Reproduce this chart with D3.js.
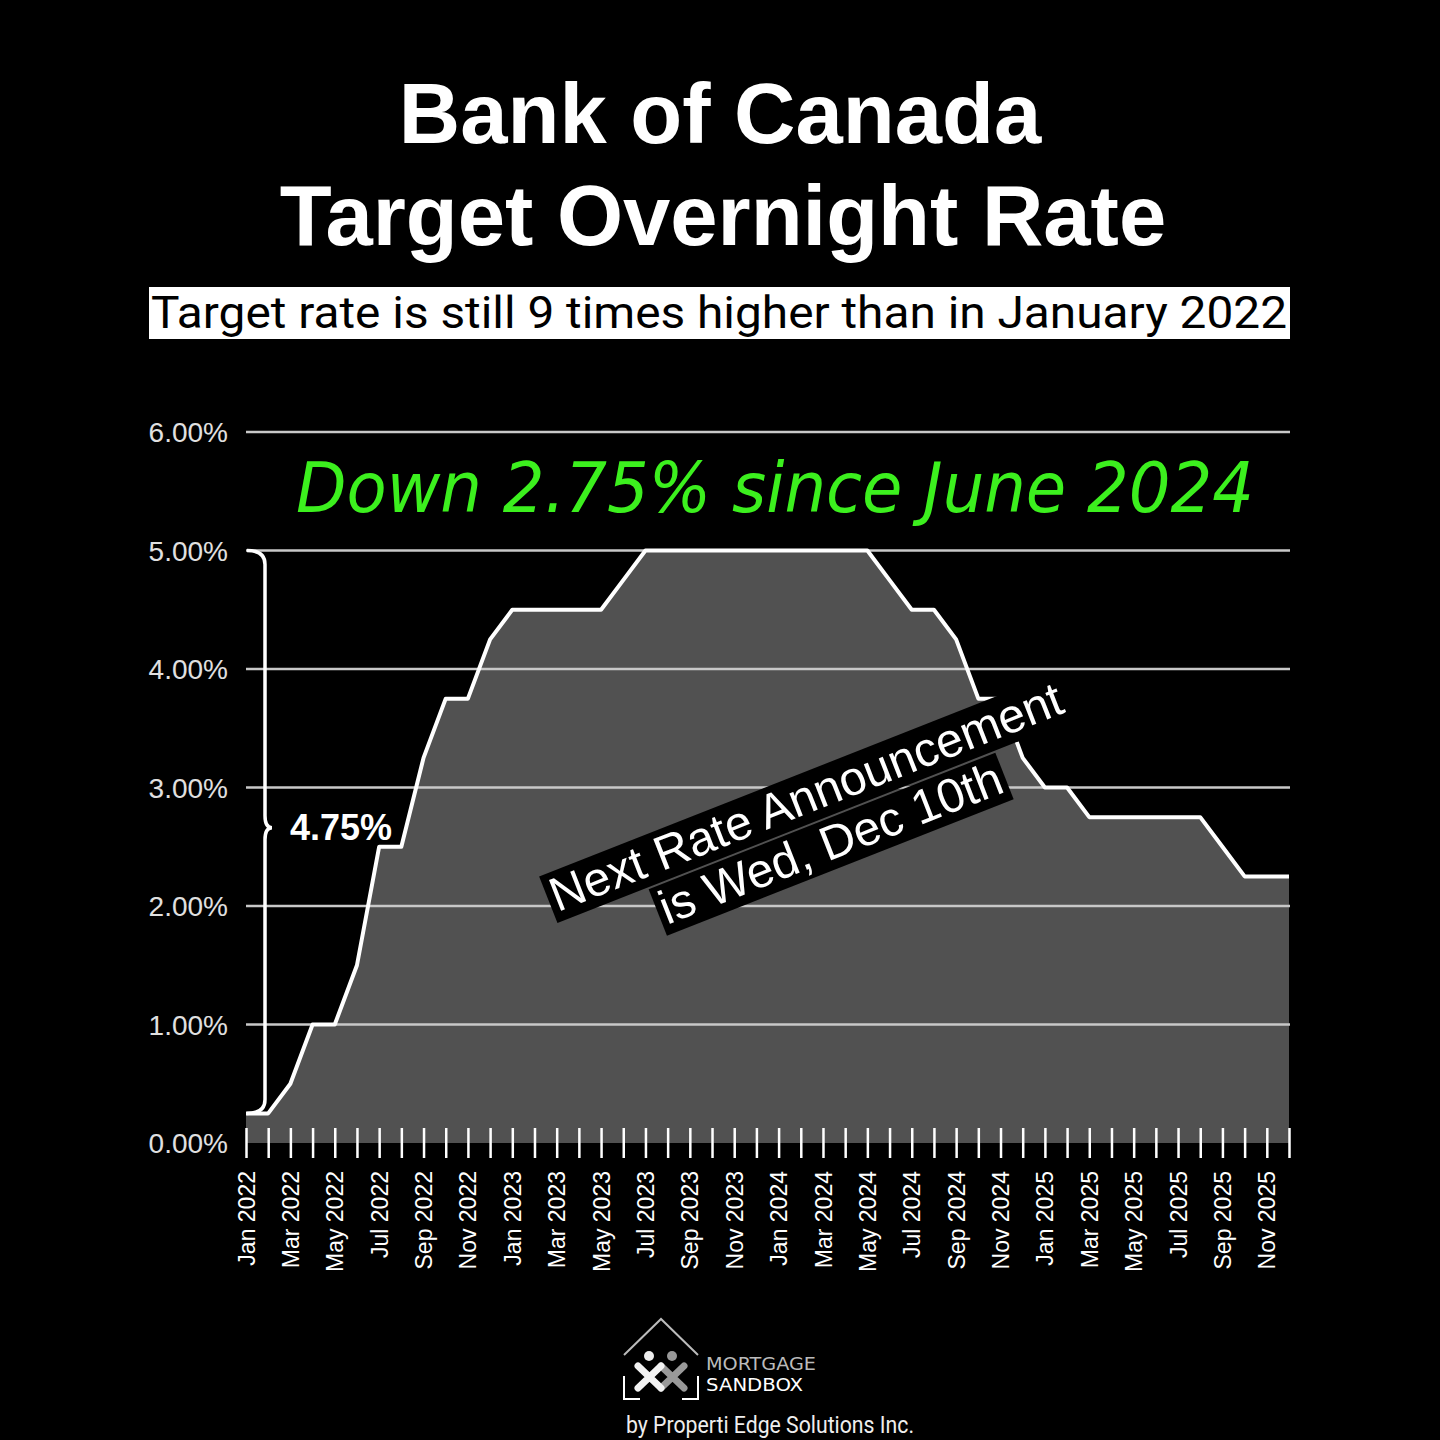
<!DOCTYPE html>
<html>
<head>
<meta charset="utf-8">
<script src="https://cdn.jsdelivr.net/npm/d3@7"></script>
<style>
  body { margin: 0; background: #000; }
  svg { display: block; }
</style>
</head>
<body>
<svg id="chart" width="1440" height="1440"></svg>
<script>
// monthly target overnight rate, Jan 2022 .. Dec 2025
var months = ["Jan 2022","Feb 2022","Mar 2022","Apr 2022","May 2022","Jun 2022","Jul 2022","Aug 2022","Sep 2022","Oct 2022","Nov 2022","Dec 2022",
              "Jan 2023","Feb 2023","Mar 2023","Apr 2023","May 2023","Jun 2023","Jul 2023","Aug 2023","Sep 2023","Oct 2023","Nov 2023","Dec 2023",
              "Jan 2024","Feb 2024","Mar 2024","Apr 2024","May 2024","Jun 2024","Jul 2024","Aug 2024","Sep 2024","Oct 2024","Nov 2024","Dec 2024",
              "Jan 2025","Feb 2025","Mar 2025","Apr 2025","May 2025","Jun 2025","Jul 2025","Aug 2025","Sep 2025","Oct 2025","Nov 2025","Dec 2025"];
var rates = [0.25,0.25,0.5,1.0,1.0,1.5,2.5,2.5,3.25,3.75,3.75,4.25,
             4.5,4.5,4.5,4.5,4.5,4.75,5.0,5.0,5.0,5.0,5.0,5.0,
             5.0,5.0,5.0,5.0,5.0,4.75,4.5,4.5,4.25,3.75,3.75,3.25,
             3.0,3.0,2.75,2.75,2.75,2.75,2.75,2.75,2.5,2.25,2.25,2.25];
var yTicks = [0,1,2,3,4,5,6];
var labelledMonths = months.filter(function(m, i){ return i % 2 == 0; });

var svg = d3.select("#chart");
svg.append("rect").attr("width",1440).attr("height",1440).attr("fill","#000");

var x = d3.scalePoint().domain(months).range([246, 1289]);
var y = d3.scaleLinear().domain([0, 6]).range([1143, 432]);

// titles
svg.append("text").attr("x",720).attr("y",143).attr("text-anchor","middle")
   .attr("font-family","Liberation Sans, Arial, sans-serif").attr("font-weight","bold")
   .attr("font-size",85).attr("fill","#fff").text("Bank of Canada");
svg.append("text").attr("x",723).attr("y",245).attr("text-anchor","middle")
   .attr("font-family","Liberation Sans, Arial, sans-serif").attr("font-weight","bold")
   .attr("font-size",85).attr("fill","#fff").text("Target Overnight Rate");

svg.append("rect").attr("x",149).attr("y",287).attr("width",1141).attr("height",52).attr("fill","#fff");
svg.append("text").attr("x",719).attr("y",328).attr("text-anchor","middle")
   .attr("font-family","Roboto, sans-serif").attr("font-size",44).attr("fill","#000")
   .attr("textLength",1136).attr("lengthAdjust","spacingAndGlyphs")
   .text("Target rate is still 9 times higher than in January 2022");

// area
var area = d3.area().x(function(d, i){ return x(months[i]); }).y0(y(0)).y1(function(d){ return y(d); });
svg.append("path").datum(rates).attr("d", area).attr("fill","#515151");

// gridlines
svg.append("g").selectAll("line").data(yTicks.filter(function(t){ return t > 0; })).enter()
   .append("line")
   .attr("x1",246).attr("x2",1290)
   .attr("y1",function(d){ return y(d); }).attr("y2",function(d){ return y(d); })
   .attr("stroke","#c8c8c8").attr("stroke-width",2.5);

// y axis labels
var yAxis = d3.axisLeft(y).tickValues(yTicks).tickSize(0).tickPadding(18)
   .tickFormat(function(d){ return d.toFixed(2) + "%"; });
var gy = svg.append("g").attr("transform","translate(246,0)").call(yAxis);
gy.select(".domain").remove();
gy.selectAll("text").attr("font-family","Liberation Sans, Arial, sans-serif")
  .attr("font-size",28).attr("fill","#e0e0e0").attr("dy","0.35em");

// x axis ticks + labels
var xAxis = d3.axisBottom(x).tickSize(30).tickPadding(12)
   .tickFormat(function(d){ return labelledMonths.indexOf(d) >= 0 ? d : ""; });
var gx = svg.append("g").attr("transform","translate(0,1128)").call(xAxis);
gx.select(".domain").remove();
gx.selectAll(".tick line").attr("stroke","#fff").attr("stroke-width",2.5);
gx.selectAll(".tick text")
  .attr("font-family","Liberation Sans, Arial, sans-serif").attr("font-size",23).attr("fill","#fff")
  .attr("text-anchor","end").attr("transform","rotate(-90)")
  .attr("x",-43).attr("y",0).attr("dy","0.35em");

// rate line
var line = d3.line().x(function(d, i){ return x(months[i]); }).y(function(d){ return y(d); });
svg.append("path").datum(rates).attr("d", line).attr("fill","none")
   .attr("stroke","#fff").attr("stroke-width",4).attr("stroke-linejoin","round");

// brace showing the 4.75% climb
var bx = 265, top5 = y(5), bot = y(rates[0]), mid = y(2.66);
var brace = "M" + 247 + "," + top5 + " Q" + bx + "," + top5 + " " + bx + "," + (top5 + 14) +
            " L" + bx + "," + (mid - 12) + " Q" + bx + "," + mid + " " + (bx + 7) + "," + mid +
            " Q" + bx + "," + mid + " " + bx + "," + (mid + 12) +
            " L" + bx + "," + (bot - 14) + " Q" + bx + "," + bot + " " + 247 + "," + bot;
svg.append("path").attr("d", brace).attr("fill","none").attr("stroke","#fff").attr("stroke-width",3.5);
svg.append("text").attr("x",290).attr("y",mid + 12)
   .attr("font-family","Liberation Sans, Arial, sans-serif").attr("font-weight","bold")
   .attr("font-size",36).attr("fill","#fff").text("4.75%");

// green handwritten note
svg.append("text").attr("x",296).attr("y",512)
   .attr("font-family","DejaVu Sans Condensed, DejaVu Sans, sans-serif").attr("font-style","italic")
   .attr("font-size",70).attr("fill","#3cf01e")
   .attr("textLength",958).attr("lengthAdjust","spacingAndGlyphs")
   .text("Down 2.75% since June 2024");

// rotated announcement
var note = svg.append("g").attr("transform","translate(812,812) rotate(-21.5)");
var noteLines = ["Next Rate Announcement", "is Wed, Dec 10th"];
noteLines.forEach(function(t, i){
  var g = note.append("g");
  var bg = g.append("rect").attr("fill","#000");
  var txt = g.append("text").attr("x", i == 0 ? 0 : 6).attr("y", i * 52)
     .attr("text-anchor","middle")
     .attr("font-family","Liberation Sans, Arial, sans-serif")
     .attr("font-size",48).attr("fill","#fff").text(t);
  var bb = txt.node().getBBox();
  bg.attr("x", bb.x - 4).attr("y", bb.y + 3).attr("width", bb.width + 8).attr("height", bb.height - 3);
});

// logo
var logo = svg.append("g");
logo.append("path").attr("d","M624,1355 L661,1319 L698,1355").attr("fill","none").attr("stroke","#bbb").attr("stroke-width",2);
logo.append("path").attr("d","M624,1376 L624,1399 L640,1399 M698,1376 L698,1399 L682,1399").attr("fill","none").attr("stroke","#fff").attr("stroke-width",2);
logo.append("circle").attr("cx",649).attr("cy",1356).attr("r",5).attr("fill","#eee");
logo.append("circle").attr("cx",672).attr("cy",1356).attr("r",5).attr("fill","#999");
logo.append("path").attr("d","M661,1366 L684,1388 M684,1366 L661,1388").attr("stroke","#999").attr("stroke-width",7).attr("stroke-linecap","round");
logo.append("path").attr("d","M638,1366 L661,1388 M661,1366 L638,1388").attr("stroke","#f2f2f2").attr("stroke-width",7).attr("stroke-linecap","round");
logo.append("text").attr("x",706).attr("y",1370).attr("font-family","DejaVu Sans Condensed, sans-serif")
   .attr("font-size",18).attr("fill","#bbb").attr("textLength",110).attr("lengthAdjust","spacingAndGlyphs").text("MORTGAGE");
logo.append("text").attr("x",706).attr("y",1391).attr("font-family","DejaVu Sans Condensed, sans-serif")
   .attr("font-size",18).attr("fill","#fff").attr("textLength",97).attr("lengthAdjust","spacingAndGlyphs").text("SANDBOX");
svg.append("text").attr("x",626).attr("y",1433).attr("font-family","Roboto, sans-serif")
   .attr("font-size",23).attr("fill","#eee").attr("textLength",288).attr("lengthAdjust","spacingAndGlyphs")
   .text("by Properti Edge Solutions Inc.");
</script>
</body>
</html>
